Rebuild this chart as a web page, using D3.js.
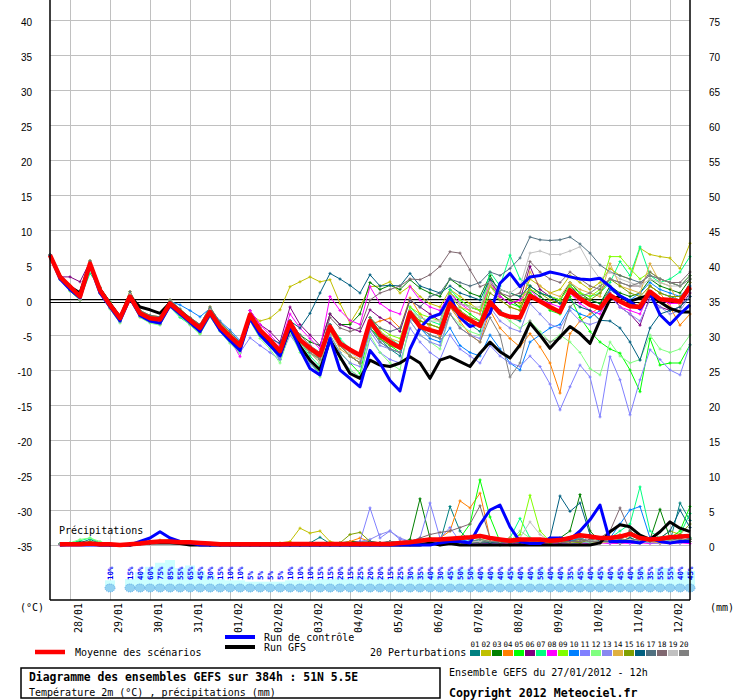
<!DOCTYPE html>
<html>
<head>
<meta charset="utf-8">
<script src="https://cdnjs.cloudflare.com/ajax/libs/d3/7.8.5/d3.min.js"></script>
<style>
  body { margin: 0; background: #fff; }
  svg { display: block; }
</style>
</head>
<body>
<div id="chart"></div>
<script>
// time steps: one value every 6h from 27/01/2012 12h (index 0) to +384h (index 64)
const dayLabels = ['28/01', '29/01', '30/01', '31/01', '01/02', '02/02', '03/02', '04/02',
  '05/02', '06/02', '07/02', '08/02', '09/02', '10/02', '11/02', '12/02']
const tempTicks = [40, 35, 30, 25, 20, 15, 10, 5, 0, -5, -10, -15, -20, -25, -30, -35]
const precipTicks = [75, 70, 65, 60, 55, 50, 45, 40, 35, 30, 25, 20, 15, 10, 5, 0]

// temperature 2m (°C)
const tMean = [6.4, 3.3, 1.9, 0.5, 5.2, 1.4, -0.7, -2.6, 0.5, -1.9, -2.6, -2.8, -0.5, -1.7, -2.9, -4.0,
  -1.7, -3.8, -5.2, -6.5, -2.1, -4.3, -5.7, -7.3, -3.2, -5.7, -6.9, -7.9, -3.8, -6.2, -7.1, -7.9,
  -3.0, -5.0, -6.0, -6.8, -1.8, -3.8, -4.3, -4.7, -0.5, -2.0, -2.9, -3.7, -0.3, -1.9, -2.4, -2.5,
  0.6, -0.2, -1.0, -1.7, 1.4, 0.2, -0.7, -1.2, 0.7, -0.2, -0.9, -1.0, 1.2, 0.1, 0.0, -0.2, 1.9]
const tCtrl = [6.4, 3.0, 1.5, 0.3, 5.0, 1.0, -1.0, -3.0, 0.3, -2.2, -3.0, -3.3, -0.8, -2.0, -3.2, -4.5,
  -2.0, -4.3, -5.8, -7.2, -2.6, -5.0, -6.5, -8.0, -3.8, -7.0, -9.8, -10.7, -5.5, -10.0, -11.2, -12.4,
  -7.2, -9.0, -11.5, -13.0, -7.0, -4.0, -2.5, -2.0, 0.5, -2.5, -3.8, -3.3, -1.9, 2.4, 3.8, 1.9,
  3.3, 3.5, 4.0, 3.7, 3.3, 3.0, 2.9, 3.1, 1.9, 0.6, -0.2, -1.3, 1.0, -2.1, -3.5, -2.0, -0.7]
const tGfs = [6.4, 3.4, 1.9, 1.0, 5.2, 1.5, -0.5, -2.5, 0.5, -1.0, -1.4, -1.9, -0.4, -1.6, -2.8, -4.0,
  -1.8, -3.9, -5.4, -6.8, -2.4, -4.8, -6.3, -7.8, -4.0, -6.6, -8.6, -10.0, -5.7, -8.1, -10.5, -11.2,
  -8.6, -9.3, -9.5, -9.0, -8.1, -9.0, -11.2, -8.6, -8.1, -8.8, -9.5, -7.6, -6.0, -7.4, -8.3, -6.4,
  -3.3, -5.0, -6.9, -5.3, -3.8, -4.8, -6.2, -2.9, 0.1, 0.5, -0.2, 0.3, 0.7, -0.3, -1.2, -1.7, -1.7]

const tP01 = [6.4, 3.3, 1.9, 0.5, 5.2, 1.4, -0.7, -2.6, 0.5, -1.9, -2.6, -2.8, -0.5, -1.7, -2.9, -4.0, -1.7, -3.8, -5.2, -6.5,
  -2.5, -4.5, -6, -7.5, -3, -5.5, -7, -8.5, -4.5, -6.5, -8, -9, -4, -5.5, -7, -8, -2.5, -4, -5, -5.5,
  -1, -2.5, -3.5, -4.5, 0, -1.5, -2.5, -3, 1, 0, -1, -1.5, 2, 0.5, 0, -0.5, 1.5, 0.5, -0.5, -1, 2, 1, 0.5, 0, 2.5]
const tP02 = [6.4, 3.4, 2.0, 0.8, 5.6, 1.8, -0.3, -2.2, 1.2, -1.5, -2.2, -2.4, 0.0, -1.3, -2.5, -3.5, -1.0, -3.2, -4.6, -6.0,
  -2.0, -3.0, -2.6, -1.4, 1.9, 2.6, 3.3, 2.6, 2.9, -0.5, -3.3, -1.0, 1.9, 2.0, 2.6, 1.0, 2.0, 0.5, -0.5, -1.0,
  1.5, 0.5, -0.5, -1.5, 2.0, 1.0, 0.0, -0.5, 3.0, 2.0, 1.0, 1.5, 3.5, 2.5, 1.5, 2.5, 4.5, 3.5, 3.0, 7.4, 6.5, 6.2, 6.0, 4.5, 8.1]
const tP03 = [6.4, 3.2, 1.7, 0.0, 5.0, 1.6, -0.5, -2.8, 0.8, -2.1, -2.9, -3.1, -0.3, -1.9, -3.1, -4.3, -1.4, -3.5, -5.0, -6.8,
  -2.3, -4.5, -6.0, -7.2, -3.0, -5.0, -6.0, -6.5, -2.0, -3.5, -3.5, -2.0, 2.5, 1.5, 2.1, 1.5, 2.9, 1.7, 1.0, 0.5,
  3.0, 2.0, 1.0, 0.5, 3.5, 1.0, 0.0, -1.0, 1.5, 0.5, -0.5, 0.0, 2.5, 1.0, 0.0, -0.5, 2.0, 1.0, 0.5, 1.0, 3.0, 2.0, 1.5, 1.0, 3.0]
const tP04 = [6.4, 3.0, 1.4, 0.2, 5.0, 1.0, -1.1, -3.0, 0.2, -2.3, -3.1, -3.4, -0.8, -2.1, -3.4, -4.6, -2.1, -4.2, -5.8, -7.2,
  -2.0, -4.5, -6.0, -7.5, -3.0, -6.0, -7.5, -8.5, -4.0, -6.5, -8.0, -9.0, -3.5, -3.0, -2.6, -4.0, 0.3, -2.0, -4.0, -5.2,
  -1.0, -3.0, -5.0, -6.0, -1.5, -4.0, -5.5, -6.7, -4.8, -6.7, -9.0, -13.3, -4.8, -3.0, -2.0, -1.0, 1.5, 0.5, -1.0, -0.5, 2.0, 1.0, -1.0, -3.6, -2.0]
const tP05 = [6.4, 3.1, 1.3, 0.0, 4.7, 1.1, -1.0, -3.1, 0.1, -2.2, -3.0, -3.5, -0.9, -2.2, -3.3, -4.8, -2.2, -4.3, -5.9, -7.4,
  -2.5, -5.0, -6.5, -8.5, -4.0, -7.0, -9.0, -10.5, -5.0, -7.5, -9.0, -10.5, -4.0, -5.5, -6.5, -7.5, -1.5, -3.0, -3.5, -4.0,
  0.5, -1.0, -2.0, -3.0, 2.0, 0.5, -0.5, -1.0, 1.0, 0.0, -1.5, -2.0, 0.5, -2.5, -4.5, -6.0, -7.0, -7.6, -10.0, -13.1, -5.5, -9.3, -9.0, -9.0, -6.4]
const tP06 = [6.4, 3.3, 3.3, 2.6, 5.5, 1.8, -0.5, -2.3, 0.8, -1.6, -2.3, -2.6, -0.3, -1.5, -2.7, -3.8, -1.5, -3.6, -5.0, -6.3,
  -1.5, -3.5, -4.5, -6.0, -1.0, -3.5, -5.0, -6.5, -2.0, -3.5, -4.0, -4.5, -1.4, -2.5, -3.3, -4.5, 0.0, -1.0, -2.0, -3.0,
  1.0, -0.5, -1.0, -1.5, 2.9, 0.5, -0.5, 0.0, 4.8, 1.5, 0.5, 0.0, 2.0, 0.5, -0.5, -1.0, 1.0, -1.0, -2.0, -3.6, 0.5, -1.0, -1.5, -1.0, 1.0]
const tP07 = [6.4, 3.2, 1.5, 0.2, 3.8, 1.8, -0.2, -3.0, 0.0, -2.0, -3.0, -3.3, -1.0, -2.5, -3.5, -4.5, -2.3, -4.3, -5.8, -7.0,
  -3.0, -5.0, -6.5, -8.0, -3.5, -6.0, -8.0, -9.5, -3.5, -5.5, -7.0, -8.0, -2.5, -4.5, -5.5, -6.5, -1.0, -2.5, -3.0, -3.5,
  1.5, 0.0, -1.0, -1.5, 4.0, 2.0, 6.4, 3.0, 2.0, 1.0, 0.5, 0.0, 2.0, 1.0, 0.5, 1.0, 2.5, 5.5, 3.5, 7.6, 3.5, 2.5, 3.0, 4.0, 6.2]
const tP08 = [6.4, 3.1, 1.6, 0.1, 4.9, 1.3, -0.9, -2.9, 0.6, -2.2, -3.0, -3.2, -0.6, -2.0, -3.2, -4.4, -1.8, -4.0, -5.6, -8.1,
  -1.5, -3.5, -5.0, -6.5, -2.0, -4.0, -5.5, -7.0, 0.5, -1.5, -2.9, -3.5, 1.9, -0.5, -1.5, -2.0, 1.9, 0.0, -1.0, -1.5,
  1.0, -0.5, -1.5, -2.0, 2.5, 0.5, -0.5, 0.0, 1.5, 0.0, -0.5, -1.0, 1.0, -0.5, -1.5, -2.0, 0.5, -1.0, -1.5, -2.0, 1.0, 0.0, -0.5, -0.5, 1.5]
const tP09 = [6.4, 3.5, 2.1, 0.7, 5.4, 1.7, -0.4, -2.3, 1.0, -1.6, -2.4, -2.5, -0.2, -1.4, -2.6, -3.7, -1.2, -3.3, -4.8, -6.2,
  -2.0, -4.0, -5.5, -7.0, -3.0, -5.5, -7.0, -8.5, -3.5, -6.0, -7.5, -8.0, -2.5, -4.0, -5.0, -5.5, -1.0, -2.0, -2.5, -3.0,
  1.0, 0.0, -1.0, -1.5, 3.0, 1.5, 1.0, 0.5, 1.5, 1.0, 0.5, 0.0, 2.0, 1.0, 0.5, 1.5, 6.2, 6.2, 4.5, 3.0, 4.0, 3.0, 2.5, 2.0, 3.5]
const tP10 = [6.4, 3.3, 1.8, 0.4, 5.0, 1.3, -0.8, -2.7, 0.4, -2.0, -2.7, -3.0, -0.2, -0.7, -1.5, -2.4, -1.2, -3.0, -4.3, -5.8,
  -2.0, -4.0, -5.5, -7.0, -3.0, -5.5, -7.0, -8.0, -3.5, -6.0, -7.0, -8.0, -4.0, -6.0, -7.0, -7.5, -2.0, -4.0, -5.5, -6.0,
  -4.0, -6.5, -7.5, -8.0, -5.0, -7.0, -9.0, -10.0, -6.0, -5.0, -4.0, -3.5, -1.0, -2.0, -2.5, -1.5, 1.5, 0.5, 0.0, 1.0, 2.5, 1.5, 1.0, 0.5, 2.0]
const tP11 = [6.4, 3.0, 1.5, 0.0, 4.8, 1.0, -1.2, -3.2, 0.2, -2.4, -3.2, -3.5, -1.0, -2.2, -3.4, -4.6, -2.3, -4.4, -6.0, -7.5,
  -5.4, -6.5, -7.5, -8.5, -5.0, -7.0, -9.0, -10.7, -5.5, -8.0, -10.0, -11.0, -5.5, -7.5, -8.5, -9.0, -4.0, -6.0, -7.5, -8.5,
  -5.0, -7.0, -8.0, -9.0, -6.5, -8.0, -9.0, -9.5, -8.0, -9.5, -12.0, -15.7, -12.4, -9.3, -11.0, -16.7, -8.1, -11.4, -16.4, -11.4, -7.1, -8.5, -10.0, -10.7, -6.4]
const tP12 = [6.4, 2.9, 1.3, 0.1, 4.6, 0.9, -1.3, -3.3, 0.0, -2.5, -3.3, -3.6, -1.0, -2.3, -3.6, -4.9, -2.4, -4.5, -6.2, -7.6,
  -3.0, -5.5, -7.0, -9.0, -4.5, -7.5, -9.5, -11.0, -5.5, -8.5, -10.0, -11.0, -5.0, -7.5, -9.0, -10.0, -3.0, -5.0, -6.0, -7.0,
  -2.0, -3.5, -4.5, -5.0, -0.5, -2.0, -3.0, -4.0, -3.0, -4.5, -6.0, -5.0, -6.0, -7.5, -9.8, -10.7, -6.0, -8.0, -9.0, -8.5, -5.0, -7.0, -7.5, -7.0, -5.0]
const tP13 = [6.4, 3.2, 1.8, 0.4, 5.1, 1.2, -0.9, -2.8, 0.3, -2.1, -2.8, -3.0, -0.7, -1.9, -3.1, -4.3, -1.9, -4.0, -5.5, -6.9,
  -3.0, -5.0, -6.5, -8.5, -4.0, -6.5, -8.5, -10.0, -5.0, -7.5, -9.0, -9.5, -4.5, -6.5, -7.0, -7.5, -3.0, -5.0, -6.0, -6.5,
  -2.0, -4.0, -5.0, -5.5, -1.0, -3.0, -4.0, -4.5, -0.5, -2.0, -3.5, -4.0, -1.5, -3.0, -3.5, -3.0, 0.5, -1.0, -2.0, -3.0, 0.0, -1.0, -2.0, -1.5, 0.5]
const tP14 = [6.4, 3.4, 2.0, 0.8, 5.6, 1.8, -0.3, -2.2, 1.2, -1.5, -2.2, -2.4, 0.0, -1.3, -2.5, -3.5, -1.0, -3.2, -4.6, -6.0,
  -2.0, -4.0, -5.5, -7.0, -3.5, -6.0, -7.5, -9.0, -4.5, -7.0, -8.0, -8.5, -3.0, -4.5, -5.5, -6.0, -2.0, -3.0, -3.5, -4.0,
  0.5, -1.0, -1.5, -2.0, 2.0, 0.0, -1.0, -1.5, 4.0, 2.0, 1.0, 0.5, 2.5, 1.5, 1.0, 0.5, 5.2, 2.0, 1.5, 1.0, 5.2, 2.5, 2.0, -1.0, 2.5]
const tP15 = [6.4, 3.2, 1.7, 0.0, 5.0, 1.6, -0.5, -2.8, 0.8, -2.1, -2.9, -3.1, -0.3, -1.9, -3.1, -4.3, -1.4, -3.5, -5.0, -6.8,
  -2.5, -4.5, -6.0, -7.5, -3.5, -6.0, -7.5, -9.0, -4.0, -6.5, -8.0, -9.0, -3.5, -5.5, -6.5, -7.0, -1.5, -3.0, -3.5, -4.0,
  0.0, -1.5, -2.5, -3.0, 1.0, 0.0, -1.0, -1.5, 2.0, 1.0, 0.0, -0.5, 1.5, 0.5, 0.0, 1.0, 3.0, 2.0, 1.0, 0.5, 2.0, 1.0, 0.5, 0.5, 1.5]
const tP16 = [6.4, 3.3, 1.9, 0.5, 5.2, 1.4, -0.7, -2.6, 0.5, -1.9, -2.6, -2.8, -0.5, -1.7, -2.9, -4.0, -1.7, -3.8, -5.2, -6.5,
  -2.5, -4.5, -5.5, -6.2, -3.0, -4.0, -1.9, 1.0, 3.8, 3.0, 2.1, 1.0, 3.6, 2.0, 2.1, 2.0, 3.8, 2.0, 1.5, 1.0,
  2.0, 1.0, 0.5, 0.0, 3.0, 1.5, 1.0, 0.5, 2.0, 1.0, 0.5, -0.5, 0.0, -1.0, -1.5, -2.9, -3.0, -4.0, -6.0, -8.6, -4.0, -2.0, -1.5, -1.0, 0.5]
const tP17 = [6.4, 3.4, 2.0, 0.8, 5.6, 1.8, -0.3, -2.2, 1.2, -1.5, -2.2, -2.4, 0.0, -1.3, -2.5, -3.5, -1.0, -3.2, -4.6, -6.0,
  -2.5, -4.5, -6.0, -7.5, -3.0, -5.5, -7.0, -8.5, -3.5, -6.0, -7.0, -8.0, -2.5, -4.0, -4.5, -4.0, 0.0, -1.0, 0.5, 1.0,
  3.0, 2.5, 2.0, 2.5, 4.0, 3.5, 4.5, 6.0, 9.0, 8.6, 8.5, 8.6, 9.0, 8.0, 6.7, 5.0, 4.0, 3.5, 3.0, 2.5, 3.5, 3.0, 2.5, 2.0, 3.5]
const tP18 = [6.4, 3.3, 1.9, 0.5, 5.2, 1.4, -0.7, -2.6, 0.5, -1.9, -2.6, -2.8, -0.5, -1.7, -2.9, -4.0, -1.7, -3.8, -5.2, -6.5,
  -2.0, -4.0, -5.5, -7.0, -3.0, -5.0, -6.5, -7.5, -2.5, -4.0, -4.5, -4.0, 0.0, 1.0, 1.5, 2.0, 3.0, 2.9, 3.6, 4.8,
  6.9, 6.7, 4.3, 1.9, 2.5, 1.0, 0.5, 1.0, 5.5, 4.0, 3.0, 2.5, 4.0, 3.0, 2.0, 1.5, 3.0, 2.5, 2.0, 2.0, 4.0, 3.0, 2.5, 2.5, 4.0]
const tP19 = [6.4, 3.2, 1.7, 0.0, 5.0, 1.6, -0.5, -2.8, 0.8, -2.1, -2.9, -3.1, -0.3, -1.9, -3.1, -4.3, -1.4, -3.5, -5.0, -6.8,
  -2.5, -4.5, -6.0, -7.5, -3.5, -6.0, -7.5, -9.0, -4.0, -6.5, -7.5, -8.5, -3.0, -5.0, -6.0, -6.5, -1.5, -2.5, -3.0, -3.0,
  0.5, -0.5, -1.0, -1.0, 2.5, 1.5, 1.0, 2.0, 6.7, 7.0, 6.5, 6.5, 7.0, 7.6, 5.0, 3.0, 4.0, 3.0, 2.5, 2.0, 3.0, 2.5, 2.0, 2.0, 3.0]
const tP20 = [6.4, 3.0, 1.4, 0.2, 5.0, 1.0, -1.1, -3.0, 0.2, -2.3, -3.1, -3.4, -0.8, -2.1, -3.4, -4.6, -2.1, -4.2, -5.8, -7.2,
  -2.5, -4.5, -6.0, -7.5, -3.5, -6.0, -7.5, -8.5, -4.0, -6.5, -8.0, -9.0, -4.0, -6.0, -7.0, -7.5, -2.0, -4.0, -5.0, -5.5,
  -2.0, -4.0, -5.0, -6.0, -2.5, -5.0, -11.0, -9.0, -3.0, -5.0, -6.0, -5.5, -1.0, 0.5, 1.0, 2.0, 3.0, 2.5, 2.0, 2.5, 3.5, 3.0, 2.5, 2.0, 3.0]

// precipitation per 6h (mm), index 0 not drawn
const pMean = [0, 0.1, 0.1, 0.1, 0.2, 0.1, 0.1, 0, 0.1, 0.2, 0.4, 0.5, 0.5, 0.4, 0.4, 0.3,
  0.2, 0.1, 0.1, 0.1, 0.1, 0.1, 0.1, 0.1, 0.15, 0.15, 0.15, 0.15, 0.15, 0.15, 0.15, 0.15,
  0.15, 0.15, 0.15, 0.3, 0.4, 0.6, 0.8, 0.8, 0.9, 1.0, 1.1, 1.3, 1.0, 0.8, 0.6, 0.8,
  0.8, 0.8, 0.6, 0.7, 1.0, 1.4, 1.2, 1.0, 1.0, 1.2, 1.6, 1.0, 0.8, 0.9, 1.1, 1.2, 1.3]
const pCtrl = [0, 0, 0, 0, 0, 0, 0, 0, 0, 0.5, 1.0, 1.9, 1.0, 0.5, 0.3, 0,
  0, 0, 0, 0, 0, 0, 0, 0, 0, 0, 0, 0, 0, 0, 0, 0,
  0, 0, 0, 0, 0, 0, 0, 0.3, 0.5, 0.5, 0.3, 2.9, 5.0, 5.7, 2.6, 0.5,
  0.2, 0.2, 1.0, 1.0, 0.8, 2.0, 3.6, 5.7, 0.5, 0.5, 0.5, 0.3, 1.0, 0.5, 0.3, 0.5, 0.5]
const pGfs = [0, 0, 0.1, 0.3, 0.2, 0, 0, 0, 0, 0.2, 0.3, 0.3, 0.3, 0.2, 0, 0,
  0, 0, 0, 0, 0, 0, 0, 0, 0, 0, 0, 0, 0, 0, 0, 0,
  0, 0, 0, 0, 0, 0, 0.3, 0, 0.2, 0, 0, 0, 0, 0, 0, 0,
  0, 0, 0, 0, 0, 0, 0, 0.3, 1.9, 2.9, 2.6, 1.4, 0.8, 1.9, 3.3, 2.4, 1.9]

const pP01 = [0, 0.1, 0.2, 0.3, 0.8, 0.2, 0, 0, 0, 0.2, 0.4, 0.6, 0.5, 0.4, 0.3, 0.2,
  0.1, 0, 0, 0, 0, 0, 0, 0, 0, 0, 0.3, 1.1, 0.2, 0, 0, 0,
  0, 0, 0, 0, 0, 0.3, 0.5, 0.4, 5.5, 2.0, 0.5, 0.3, 0.2, 0, 0, 0.5,
  0.3, 0.2, 1.0, 0.5, 0.3, 0.4, 0.8, 0.5, 0.3, 0.5, 1.0, 0.5, 1.0, 0.8, 0.5, 6.0, 3.5]
const pP02 = [0, 0.1, 0.1, 0.2, 0.3, 0.1, 0, 0, 0, 0.3, 0.5, 0.6, 0.7, 0.5, 0.4, 0.2,
  0.1, 0, 0, 0, 0, 0, 0, 0.3, 0.5, 2.4, 1.7, 2.0, 0.5, 0.2, 0.2, 0.1,
  0, 0, 0.2, 0.3, 0.5, 0.3, 0.2, 0, 0.3, 0.5, 0.2, 0.5, 0.3, 0.2, 0.5, 0.5,
  0.8, 0.3, 0.2, 0.5, 0.8, 0.5, 0.3, 0.5, 0.5, 0.3, 1.0, 0.5, 0.8, 1.0, 2.0, 1.5, 1.0]
const pP03 = [0, 0.1, 0.2, 0.2, 0.4, 0.1, 0, 0, 0, 0.2, 0.4, 0.5, 0.6, 0.4, 0.3, 0.2,
  0.1, 0, 0, 0, 0, 0, 0, 0, 0, 0, 0, 0, 0.2, 0.3, 0.5, 0.5,
  0.3, 0.2, 0.5, 0.3, 0.8, 6.6, 1.0, 0.5, 0.3, 0.2, 0.5, 0.3, 0.2, 0.3, 0.5, 0.3,
  0.5, 0.3, 0.5, 1.0, 2.0, 7.2, 2.0, 0.5, 0.5, 0.8, 2.0, 1.0, 0.8, 5.1, 1.0, 0.5, 0.8]
const pP04 = [0, 0.1, 0.1, 0.2, 0.3, 0.1, 0, 0, 0.1, 0.3, 0.5, 0.7, 0.7, 0.5, 0.4, 0.3,
  0.1, 0, 0, 0, 0, 0, 0, 0, 0, 0, 0, 0, 0, 0.2, 0.5, 1.0,
  0.5, 0.3, 0.2, 0.2, 0.3, 0.5, 0.5, 1.0, 2.0, 6.3, 5.3, 7.4, 1.0, 0.5, 0.3, 0.5,
  0.3, 0.2, 0.5, 0.3, 0.2, 0.5, 0.3, 0.5, 0.5, 1.5, 0.8, 0.5, 1.0, 0.5, 0.3, 0.5, 0.5]
const pP05 = [0, 0.1, 0.2, 0.2, 0.5, 0.2, 0, 0, 0, 0.2, 0.4, 0.5, 0.6, 0.5, 0.3, 0.2,
  0.1, 0, 0, 0, 0, 0, 0, 0, 0, 0, 0, 0, 0, 0, 0.2, 0.3,
  0.2, 0.3, 0.2, 0.3, 0.5, 0.5, 0.3, 0.5, 0.5, 1.0, 3.0, 9.3, 4.0, 0.5, 0.3, 0.5,
  0.5, 0.3, 0.5, 0.3, 0.5, 0.8, 0.5, 0.3, 0.5, 0.3, 0.5, 1.0, 0.5, 0.8, 1.0, 2.0, 5.5]
const pP06 = [0, 0.1, 0.2, 0.1, 0.3, 0.1, 0, 0, 0, 0.2, 0.3, 0.4, 0.5, 0.4, 0.3, 0.2,
  0, 0, 0, 0, 0, 0, 0, 0, 0, 0, 0, 0, 0, 0, 0.2, 0.2,
  0.2, 0.1, 0.2, 0.3, 0.2, 0.3, 0.5, 0.3, 0.5, 0.3, 0.2, 0.5, 0.3, 0.5, 1.0, 0.5,
  0.3, 0.2, 0.3, 0.5, 0.3, 0.5, 0.8, 0.5, 0.3, 0.2, 0.5, 0.3, 0.5, 0.3, 0.5, 0.3, 0.5]
const pP07 = [0, 0.2, 0.3, 0.6, 1.0, 0.3, 0, 0, 0, 0.2, 0.4, 0.6, 0.7, 0.5, 0.4, 0.2,
  0.1, 0, 0, 0, 0, 0, 0, 0, 0, 0, 0, 0, 0, 0, 0, 0.2,
  0.2, 0.3, 0.2, 0.2, 0.3, 0.5, 0.8, 0.5, 0.3, 0.5, 0.5, 0.8, 0.5, 0.5, 1.0, 3.8,
  1.0, 0.5, 0.3, 0.5, 0.5, 1.0, 0.5, 0.5, 1.0, 2.0, 3.0, 8.3, 2.0, 1.0, 0.5, 1.5, 4.5]
const pP08 = [0, 0, 0.1, 0.1, 0.2, 0, 0, 0, 0, 0.2, 0.3, 0.4, 0.4, 0.3, 0.2, 0.1,
  0, 0, 0, 0, 0, 0, 0, 0, 0, 0, 0, 0, 0, 0, 0, 0,
  0, 0, 0, 0.1, 0.2, 0.2, 0.1, 0.2, 0.2, 0.3, 0.2, 0.3, 0.2, 0.2, 0.3, 0.2,
  0.2, 0.3, 0.3, 0.2, 0.2, 0.3, 0.2, 0.3, 0.2, 0.3, 0.2, 0.3, 0.2, 0.3, 0.2, 0.3, 0.2]
const pP09 = [0, 0.1, 0.1, 0.2, 0.3, 0.1, 0, 0, 0, 0.3, 0.5, 0.6, 0.6, 0.5, 0.3, 0.2,
  0.1, 0, 0, 0, 0, 0, 0, 0, 0, 0, 0, 0, 0, 0, 0.2, 0.2,
  0.3, 0.2, 0.2, 0.3, 0.3, 0.5, 0.5, 0.3, 0.5, 0.3, 0.5, 0.8, 0.5, 0.3, 0.5, 1.5,
  7.1, 2.0, 0.5, 0.3, 0.5, 0.8, 0.5, 0.5, 0.5, 0.3, 0.8, 0.5, 0.5, 0.8, 1.0, 0.5, 1.0]
const pP10 = [0, 0.1, 0.1, 0.2, 0.3, 0.1, 0, 0, 0, 0.2, 0.4, 0.5, 0.6, 0.4, 0.3, 0.2,
  0, 0, 0, 0, 0, 0, 0, 0, 0, 0, 0, 0, 0, 0, 0, 0.2,
  0.3, 0.2, 0.3, 0.2, 0.3, 0.5, 0.3, 0.5, 0.3, 0.5, 0.8, 0.5, 0.3, 0.5, 0.3, 0.5,
  0.3, 0.5, 0.5, 0.3, 0.5, 1.0, 0.5, 0.8, 1.0, 3.0, 5.0, 5.5, 1.0, 0.5, 0.8, 0.5, 1.0]
const pP11 = [0, 0.1, 0.1, 0.2, 0.2, 0.1, 0, 0, 0, 0.2, 0.3, 0.5, 0.5, 0.4, 0.3, 0.2,
  0.1, 0, 0, 0, 0, 0, 0, 0, 0, 0, 0, 0, 0, 0, 0.2, 0.5,
  5.3, 1.0, 2.0, 0.8, 0.5, 1.0, 6.0, 1.0, 2.5, 0.5, 0.3, 0.5, 0.3, 0.2, 0.5, 0.3,
  0.5, 0.3, 0.5, 0.5, 0.3, 0.5, 0.3, 0.5, 0.3, 0.5, 0.3, 0.5, 0.3, 0.2, 0.5, 0.3, 0.5]
const pP12 = [0, 0.1, 0.3, 0.8, 1.0, 0.5, 0, 0, 0, 0.2, 0.4, 0.6, 0.6, 0.5, 0.3, 0.2,
  0.1, 0, 0, 0, 0, 0, 0, 0, 0, 0, 0, 0, 0, 0, 0, 0,
  0.2, 0.3, 0.2, 0.3, 0.2, 0.5, 0.3, 0.5, 0.3, 0.5, 0.3, 0.5, 0.8, 0.5, 0.5, 2.0,
  1.0, 0.5, 0.3, 0.5, 0.3, 0.5, 0.3, 0.5, 0.5, 0.8, 0.5, 0.3, 0.5, 0.5, 0.8, 0.5, 0.5]
const pP13 = [0, 0.1, 0.1, 0.2, 0.2, 0.1, 0, 0, 0, 0.2, 0.3, 0.4, 0.5, 0.4, 0.3, 0.2,
  0, 0, 0, 0, 0, 0, 0, 0, 0, 0, 0, 0, 0, 0, 0.3, 0.5,
  0.8, 1.5, 2.0, 1.0, 0.5, 0.3, 0.5, 0.3, 0.5, 0.3, 0.2, 0.3, 0.3, 0.5, 0.8, 0.3,
  0.5, 0.3, 0.5, 0.3, 0.2, 0.3, 0.5, 0.3, 0.5, 0.3, 0.5, 0.3, 0.5, 0.3, 0.5, 0.3, 0.5]
const pP14 = [0, 0.1, 0.1, 0.2, 0.3, 0.1, 0, 0, 0, 0.2, 0.4, 0.5, 0.5, 0.4, 0.3, 0.2,
  0, 0, 0, 0, 0, 0, 0, 0, 0, 0, 0, 0, 0, 0, 0, 0.2,
  0.3, 0.2, 0.3, 0.2, 0.5, 0.3, 0.5, 0.3, 0.5, 0.3, 0.5, 0.3, 0.5, 0.3, 1.0, 0.5,
  0.3, 0.5, 0.3, 0.5, 0.3, 0.8, 0.5, 0.3, 0.5, 1.0, 0.5, 0.8, 0.5, 0.3, 0.5, 0.8, 0.5]
const pP15 = [0, 0.1, 0.2, 0.2, 0.3, 0.1, 0, 0, 0, 0.2, 0.4, 0.5, 0.6, 0.5, 0.3, 0.2,
  0.1, 0, 0, 0, 0, 0, 0, 0, 0, 0, 0, 0, 0, 0.3, 1.5, 1.8,
  0.5, 0.3, 0.2, 0.3, 0.5, 0.3, 0.5, 0.3, 0.5, 0.3, 0.5, 0.5, 0.3, 0.5, 0.3, 0.5,
  0.8, 0.5, 0.3, 0.5, 0.5, 0.3, 0.8, 0.5, 1.0, 0.5, 0.8, 0.5, 1.0, 0.5, 0.8, 1.5, 3.0]
const pP16 = [0, 0.1, 0.1, 0.2, 0.3, 0.1, 0, 0, 0, 0.2, 0.4, 0.5, 0.6, 0.4, 0.3, 0.2,
  0, 0, 0, 0, 0, 0, 0, 0, 0, 0, 0, 0, 0, 0, 0.2, 0.3,
  0.5, 0.3, 0.5, 0.3, 0.5, 0.5, 0.3, 0.5, 0.5, 0.3, 0.5, 0.5, 0.3, 0.5, 0.5, 0.3,
  0.5, 0.3, 1.0, 7.0, 4.8, 6.0, 1.5, 0.5, 0.8, 0.5, 1.0, 0.5, 0.8, 1.0, 2.0, 5.0, 2.5]
const pP17 = [0, 0.1, 0.1, 0.2, 0.2, 0.1, 0, 0, 0, 0.2, 0.3, 0.5, 0.5, 0.4, 0.3, 0.2,
  0, 0, 0, 0, 0, 0, 0, 0, 0, 0, 0, 0, 0, 0, 0, 0,
  0.2, 0.3, 0.2, 0.3, 0.5, 0.3, 0.5, 0.3, 0.5, 0.3, 0.5, 0.3, 0.5, 0.3, 0.5, 0.5,
  0.5, 0.8, 0.5, 0.3, 0.5, 0.8, 0.5, 0.5, 0.5, 0.8, 0.5, 1.0, 0.5, 0.8, 0.5, 1.0, 0.5]
const pP18 = [0, 0.1, 0.1, 0.2, 0.3, 0.1, 0, 0, 0, 0.2, 0.4, 0.5, 0.6, 0.4, 0.3, 0.2,
  0, 0, 0, 0, 0, 0, 0, 0, 0, 0, 0, 0, 0, 0, 0, 0,
  0.3, 0.2, 0.3, 0.5, 0.5, 1.0, 1.5, 1.8, 2.0, 2.5, 3.0, 5.6, 1.0, 0.5, 0.3, 0.5,
  0.5, 0.3, 0.5, 0.3, 0.5, 0.5, 0.8, 1.0, 2.0, 5.3, 2.0, 1.0, 0.8, 0.5, 1.0, 0.5, 0.8]
const pP19 = [0, 0.1, 0.1, 0.1, 0.2, 0.1, 0, 0, 0, 0.2, 0.3, 0.4, 0.5, 0.4, 0.3, 0.2,
  0, 0, 0, 0, 0, 0, 0, 0, 0, 0, 0, 0, 0, 0, 0, 0,
  0.2, 0.3, 0.2, 0.3, 0.2, 0.3, 0.5, 0.3, 0.5, 0.3, 0.5, 0.5, 0.8, 0.5, 0.5, 1.0,
  3.3, 1.5, 0.5, 0.5, 0.8, 1.5, 0.5, 0.8, 1.0, 0.5, 0.8, 0.5, 1.0, 0.8, 0.5, 0.8, 0.5]
const pP20 = [0, 0.1, 0.1, 0.2, 0.3, 0.1, 0, 0, 0, 0.2, 0.4, 0.5, 0.6, 0.4, 0.3, 0.2,
  0, 0, 0, 0, 0, 0, 0, 0, 0, 0, 0, 0, 0, 0, 0, 0.3,
  0.3, 0.2, 0.5, 0.3, 0.5, 0.3, 0.5, 0.5, 0.8, 0.5, 0.5, 0.8, 0.5, 0.5, 0.8, 0.5,
  0.5, 0.8, 0.5, 0.5, 0.8, 1.0, 0.5, 0.5, 0.8, 1.0, 0.5, 1.0, 0.8, 0.5, 1.0, 0.8, 0.5]

// probability of precipitation (%) per 6h step
const precipProb = [0, 0, 0, 0, 0, 0, 10, 0, 15, 40, 60, 75, 85, 55, 65, 45,
  30, 15, 10, 10, 5, 5, 5, 5, 10, 10, 10, 15, 15, 20, 15, 25,
  20, 20, 15, 25, 30, 35, 40, 30, 45, 50, 50, 40, 40, 40, 45, 40,
  40, 50, 40, 40, 35, 45, 40, 45, 40, 45, 40, 50, 35, 55, 55, 40, 45]

const pertNames = ['01', '02', '03', '04', '05', '06', '07', '08', '09', '10',
  '11', '12', '13', '14', '15', '16', '17', '18', '19', '20']
const pertColors = ['#008080', '#c0c000', '#008000', '#ff8000', '#00ff00', '#800080', '#00ff80', '#ff00ff', '#80ff00', '#0080ff',
  '#8080ff', '#80ff80', '#8888f0', '#e0b040', '#80a000', '#005f80', '#507080', '#806870', '#c0c0c0', '#808080']
const pertTemp = [tP01, tP02, tP03, tP04, tP05, tP06, tP07, tP08, tP09, tP10,
  tP11, tP12, tP13, tP14, tP15, tP16, tP17, tP18, tP19, tP20]
const pertPrecip = [pP01, pP02, pP03, pP04, pP05, pP06, pP07, pP08, pP09, pP10,
  pP11, pP12, pP13, pP14, pP15, pP16, pP17, pP18, pP19, pP20]

const mono = '"DejaVu Sans Mono", "Liberation Mono", monospace'
const sans = '"Liberation Sans", Arial, sans-serif'

let svg = d3.select('#chart').append('svg')
  .attr('width', 740).attr('height', 700)
  .style('background', '#fff')

let x = d3.scaleLinear().domain([0, 384]).range([50, 690])
let y = d3.scaleLinear().domain([-35, 40]).range([545, 20])
let yP = d3.scaleLinear().domain([0, 75]).range([545, 20])
let yProb = d3.scaleLinear().domain([0, 100]).range([583, 556])
let stepH = i => i * 6
let dayH = i => 12 + i * 24

// grid
let grid = svg.append('g').attr('stroke', '#c0c0c0').attr('shape-rendering', 'crispEdges')
grid.selectAll('line.h').data(tempTicks).enter().append('line')
  .attr('x1', 50).attr('x2', 690)
  .attr('y1', d => y(d)).attr('y2', d => y(d))
grid.selectAll('line.v').data(dayLabels).enter().append('line')
  .attr('x1', (d, i) => x(dayH(i))).attr('x2', (d, i) => x(dayH(i)))
  .attr('y1', 0).attr('y2', 600)

// probability band
let probData = precipProb.map((p, i) => ({ h: stepH(i), p })).filter(d => d.p > 0)
let probG = svg.append('g')
probG.selectAll('rect').data(probData).enter().append('rect')
  .attr('x', d => x(d.h) - 5).attr('width', 10)
  .attr('y', d => yProb(d.p)).attr('height', d => 588 - yProb(d.p))
  .attr('fill', '#ccffff')
probG.selectAll('ellipse').data(probData).enter().append('ellipse')
  .attr('cx', d => x(d.h)).attr('cy', 588).attr('rx', 5).attr('ry', 4)
  .attr('fill', '#92d2f2').attr('stroke', '#5aa8e6').attr('stroke-width', 1)
  .attr('stroke-dasharray', '1,1')
probG.selectAll('text').data(probData).enter().append('text')
  .attr('transform', d => `translate(${x(d.h) + 2.5},580) rotate(-90)`)
  .text(d => d.p + '%')
  .style('font-family', mono).style('font-size', '7.5px').style('font-weight', 'bold')
  .style('fill', '#0000ff')

// 0°C double line
let y0 = Math.round(y(0))
svg.append('g').attr('stroke', '#000').attr('shape-rendering', 'crispEdges')
  .selectAll('line').data([y0 - 1, y0 + 2]).enter().append('line')
  .attr('x1', 50).attr('x2', 690).attr('y1', d => d).attr('y2', d => d)

let tempLine = d3.line().x((d, i) => x(stepH(i))).y(d => y(d))
let precipLine = d3.line().x((d, i) => x(stepH(i + 1))).y(d => yP(d))

function crosses (vals, scale, offset) {
  return vals.map((v, i) => {
    let cx = x(stepH(i + offset)), cy = scale(v)
    return `M${cx - 1.5},${cy}h3M${cx},${cy - 1.5}v3`
  }).join('')
}

let series = svg.append('g').attr('fill', 'none')
pertTemp.forEach((vals, idx) => {
  let col = pertColors[idx]
  series.append('path').attr('d', tempLine(vals)).attr('stroke', col).attr('stroke-width', 1)
  series.append('path').attr('d', crosses(vals, y, 0)).attr('stroke', col).attr('stroke-width', 1)
  let pv = pertPrecip[idx].slice(1)
  series.append('path').attr('d', precipLine(pv)).attr('stroke', col).attr('stroke-width', 1)
  series.append('path').attr('d', crosses(pv, yP, 1)).attr('stroke', col).attr('stroke-width', 1)
})

// GFS, control, mean on top
let mains = [
  { t: tGfs, p: pGfs, color: '#000', w: 3 },
  { t: tCtrl, p: pCtrl, color: '#0000ff', w: 3 },
  { t: tMean, p: pMean, color: '#ff0000', w: 4.5 }
]
mains.forEach(m => {
  series.append('path').attr('d', tempLine(m.t)).attr('stroke', m.color)
    .attr('stroke-width', m.w).attr('stroke-linejoin', 'round')
  series.append('path').attr('d', precipLine(m.p.slice(1))).attr('stroke', m.color)
    .attr('stroke-width', m.w).attr('stroke-linejoin', 'round')
})

// frame
let frame = svg.append('g').attr('stroke', '#000').attr('stroke-width', 1.5)
frame.append('line').attr('x1', 50).attr('x2', 50).attr('y1', 0).attr('y2', 600)
frame.append('line').attr('x1', 690).attr('x2', 690).attr('y1', 0).attr('y2', 600)
frame.append('line').attr('x1', 50).attr('x2', 690).attr('y1', 600).attr('y2', 600)

// axis labels
svg.append('g').selectAll('text').data(tempTicks).enter().append('text')
  .attr('x', 32).attr('y', d => y(d) + 6).attr('text-anchor', 'end')
  .text(d => d)
  .style('font-family', sans).style('font-size', '10px')
svg.append('g').selectAll('text').data(precipTicks).enter().append('text')
  .attr('x', 709).attr('y', d => yP(d) + 6)
  .text(d => d)
  .style('font-family', sans).style('font-size', '10px')
svg.append('g').selectAll('text').data(dayLabels).enter().append('text')
  .attr('transform', (d, i) => `translate(${x(dayH(i)) + 12},603) rotate(-90)`)
  .attr('text-anchor', 'end')
  .text(d => d)
  .style('font-family', mono).style('font-size', '10px')

let txt = (t, xx, yy, size, bold) => svg.append('text').attr('x', xx).attr('y', yy).text(t)
  .style('font-family', mono).style('font-size', size + 'px')
  .style('font-weight', bold ? 'bold' : 'normal')

txt('(°C)', 20, 611, 10)
txt('(mm)', 710, 611, 10)
txt('Précipitations', 59, 534, 10)

// legend
let leg = svg.append('g')
leg.append('line').attr('x1', 35).attr('x2', 65).attr('y1', 652).attr('y2', 652)
  .attr('stroke', '#ff0000').attr('stroke-width', 4.5)
leg.append('line').attr('x1', 225).attr('x2', 255).attr('y1', 637).attr('y2', 637)
  .attr('stroke', '#0000ff').attr('stroke-width', 4)
leg.append('line').attr('x1', 225).attr('x2', 255).attr('y1', 647).attr('y2', 647)
  .attr('stroke', '#000').attr('stroke-width', 4)
txt('Moyenne des scénarios', 75, 656, 10)
txt('Run de contrôle', 264, 641, 10)
txt('Run GFS', 264, 651, 10)
txt('20 Perturbations', 370, 656, 10)

let sw = svg.append('g')
sw.selectAll('rect').data(pertColors).enter().append('rect')
  .attr('x', (d, i) => 470 + i * 11).attr('y', 650).attr('width', 10).attr('height', 6)
  .attr('fill', d => d)
sw.selectAll('text').data(pertNames).enter().append('text')
  .attr('x', (d, i) => 475 + i * 11).attr('y', 647).attr('text-anchor', 'middle')
  .text(d => d)
  .style('font-family', mono).style('font-size', '7.5px')

// footer
svg.append('rect').attr('x', 21).attr('y', 668).attr('width', 419).attr('height', 30)
  .attr('fill', 'none').attr('stroke', '#000').attr('stroke-width', 1.5)
txt('Diagramme des ensembles GEFS sur 384h : 51N 5.5E', 29, 681, 11.4, true)
txt('Température 2m (°C) , précipitations (mm)', 29, 696, 10)
txt('Ensemble GEFS du 27/01/2012 - 12h', 449, 676, 10)
txt('Copyright 2012 Meteociel.fr', 449, 697, 11.6, true)
</script>
</body>
</html>
